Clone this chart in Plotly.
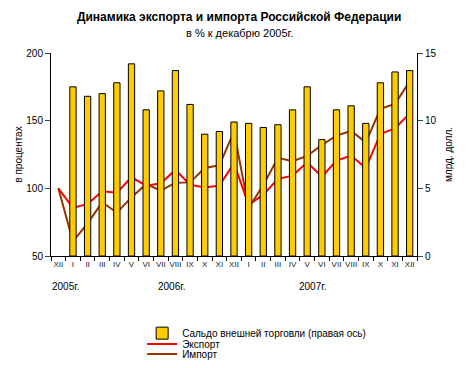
import plotly.graph_objects as go

month_labels = ["XII", "I", "II", "III", "IV", "V", "VI", "VII", "VIII", "IX", "X", "XI", "XII",
                "I", "II", "III", "IV", "V", "VI", "VII", "VIII", "IX", "X", "XI", "XII"]
year_labels = ["2005г.", "2006г.", "2007г."]

# Trade balance, bln USD (right axis); no bar for XII 2005
saldo = [None, 12.5, 11.8, 12.0, 12.8, 14.2, 10.8, 12.2, 13.7, 11.2, 9.0, 9.2, 9.9,
         9.8, 9.5, 9.7, 10.8, 12.5, 8.6, 10.8, 11.1, 9.8, 12.8, 13.6, 13.7]
# Export, % of Dec 2005
export = [100, 85.5, 88.5, 97.8, 96.8, 108.1, 102.0, 103.7, 113.6, 102.7, 100.7, 102.0, 118.5,
          87.7, 95.3, 107.0, 109.4, 119.2, 108.6, 120.5, 124.2, 115.0, 140.2, 144.3, 155.4]
# Import, % of Dec 2005
imports = [100, 60.8, 74.1, 89.7, 82.0, 93.3, 103.2, 98.3, 104.2, 104.4, 115.0, 117.0, 141.9,
           85.5, 102.5, 122.5, 120.0, 124.0, 132.0, 139.0, 142.4, 134.0, 158.7, 162.4, 179.0]

x = list(range(len(month_labels)))
FONT = "Liberation Sans, Arial, sans-serif"

fig = go.Figure()
fig.add_trace(go.Bar(x=x, y=saldo, name="Сальдо внешней торговли (правая ось)",
                     marker=dict(color="#FFCC00", line=dict(color="black", width=1)),
                     yaxis="y2", width=0.43, legend="legend"))
fig.add_trace(go.Scatter(x=x, y=export, name="Экспорт", mode="lines",
                         line=dict(color="#FF0000", width=2), legend="legend2"))
fig.add_trace(go.Scatter(x=x, y=imports, name="Импорт", mode="lines",
                         line=dict(color="#993300", width=2), legend="legend3"))

leg_common = dict(x=0.249, xanchor="left", yanchor="middle", font=dict(size=10),
                  itemwidth=30, bgcolor="rgba(0,0,0,0)", borderwidth=0)

# page body has an 8px default margin, so the figure is 8px smaller and margins shifted
fig.update_layout(
    width=463, height=360,
    margin=dict(l=43, r=54, t=45, b=112, autoexpand=False),
    paper_bgcolor="white", plot_bgcolor="white",
    font=dict(family=FONT, size=10, color="black"),
    showlegend=True,
    legend=dict(y=-0.38, **leg_common),
    legend2=dict(y=-0.433, **leg_common),
    legend3=dict(y=-0.483, **leg_common),
    xaxis=dict(range=[-0.5, 24.5], tickmode="array", tickvals=x, ticktext=month_labels,
               ticks="", tickfont=dict(size=8, color="#222222"), showgrid=False,
               showline=True, linecolor="black", linewidth=1, zeroline=False,
               minor=dict(ticks="outside", tick0=-0.5, dtick=1, ticklen=4,
                          tickcolor="black", showgrid=False)),
    yaxis=dict(range=[50, 200], tickvals=[50, 100, 150, 200], ticks="outside", ticklen=5,
               showline=True, linecolor="black", linewidth=1, showgrid=False, zeroline=False,
               tickfont=dict(size=10),
               title=dict(text="в процентах", font=dict(size=10), standoff=1)),
    yaxis2=dict(range=[0, 15], tickvals=[0, 5, 10, 15], ticks="outside", ticklen=5,
                overlaying="y", side="right", showline=True, linecolor="black", linewidth=1,
                showgrid=False, zeroline=False, tickfont=dict(size=10),
                title=dict(text="млрд. долл.", font=dict(size=10), standoff=9)),
    title=dict(text="<b>Динамика экспорта и импорта Российской Федерации</b>",
               xref="paper", x=0.514, xanchor="center", y=1 - 9 / 360, yanchor="middle",
               font=dict(size=12)),
    bargap=0.57,
)

fig.add_annotation(x=0.514, xref="paper", xanchor="center", y=(256 - 33) / 203, yref="paper",
                   yanchor="middle", text="в % к декабрю 2005г.", showarrow=False,
                   font=dict(size=11))

for txt, xp in zip(year_labels, [-0.003, 0.287, 0.757]):
    fig.add_annotation(x=xp, y=-0.15, xref="paper", yref="paper", text=txt, showarrow=False,
                       font=dict(size=10), yanchor="middle")

fig.write_html("out.html")
